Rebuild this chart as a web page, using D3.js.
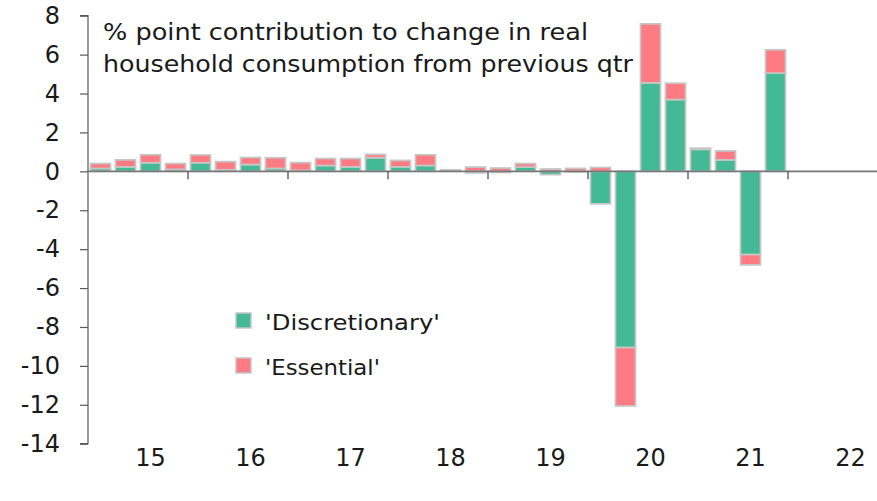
<!DOCTYPE html>
<html>
<head>
<meta charset="utf-8">
<script src="https://cdn.jsdelivr.net/npm/d3@7"></script>
<style>
  html, body { margin: 0; padding: 0; background: #fff; }
  svg { display: block; font-family: "DejaVu Sans", sans-serif; }
</style>
</head>
<body>
<svg id="chart" width="877" height="501"></svg>
<script>
// ---- data ----
const quarters = [
  "2015Q1","2015Q2","2015Q3","2015Q4",
  "2016Q1","2016Q2","2016Q3","2016Q4",
  "2017Q1","2017Q2","2017Q3","2017Q4",
  "2018Q1","2018Q2","2018Q3","2018Q4",
  "2019Q1","2019Q2","2019Q3","2019Q4",
  "2020Q1","2020Q2","2020Q3","2020Q4",
  "2021Q1","2021Q2","2021Q3","2021Q4",
  "2022Q1","2022Q2","2022Q3","2022Q4"
];
const discretionary = [0.15,0.23,0.44,0.10,0.44,0.08,0.35,0.15,0.05,0.30,0.23,0.70,
                       0.23,0.30,0.03,-0.08,-0.06,0.22,-0.17,-0.03,-1.67,-9.06,4.55,3.69,
                       1.13,0.59,-4.28,5.05];
const essential     = [0.25,0.36,0.41,0.30,0.40,0.42,0.36,0.55,0.40,0.36,0.43,0.17,
                       0.33,0.55,0.05,0.22,0.17,0.18,0.12,0.15,0.20,-3.00,3.03,0.84,
                       0.06,0.46,-0.53,1.20];
const seriesNames = ["'Discretionary'", "'Essential'"];
const yTicks = [8,6,4,2,0,-2,-4,-6,-8,-10,-12,-14];
const yearLabels = ["15","16","17","18","19","20","21","22"];
const titleLines = ["% point contribution to change in real",
                    "household consumption from previous qtr"];

// ---- styles ----
const colors = ["#43B995", "#FF7B83"];
const barStroke = "#C6C6C6";
const textColor = "#1a1a1a";

const svg = d3.select("#chart");

const x = d3.scaleBand().domain(quarters).range([88, 888]).paddingInner(0.2).paddingOuter(0.1);
const y = d3.scaleLinear().domain([-14, 8]).range([443.7, 15.7]);

// stacked data (diverging)
const rows = discretionary.map((d, i) => ({q: quarters[i], disc: d, ess: essential[i]}));
const stack = d3.stack().keys(["disc", "ess"]).offset(d3.stackOffsetDiverging);
const layers = stack(rows);

const bw = 25 * 0.8;
layers.forEach((layer, li) => {
  svg.append("g").selectAll("rect").data(layer).join("rect")
    .attr("x", d => x.step() * quarters.indexOf(d.data.q) + 88 + (x.step() - bw) / 2)
    .attr("width", bw)
    .attr("y", d => y(Math.max(d[0], d[1])))
    .attr("height", d => Math.abs(y(d[0]) - y(d[1])))
    .attr("fill", colors[li])
    .attr("stroke", barStroke)
    .attr("stroke-width", 1.7);
});

// y axis
const yAxis = d3.axisLeft(y).tickValues(yTicks).tickSize(8).tickFormat(d3.format("d"));
const gy = svg.append("g").attr("transform", "translate(88,0)").call(yAxis);
gy.select(".domain").attr("stroke", "#5a5a5a").attr("stroke-width", 1.2)
  .attr("d", `M-8,${y(8)}H0V${y(-14)}H-8`);
gy.selectAll(".tick line").attr("stroke", "#5a5a5a").attr("stroke-width", 1.2);
gy.selectAll(".tick text").attr("x", -28).attr("font-size", 24)
  .attr("fill", textColor).attr("font-family", "DejaVu Sans, sans-serif")
  .text(d => d < 0 ? "-" + Math.abs(d) : d);

// x axis (zero line) with year ticks
const yearStart = quarters.filter(q => q.endsWith("Q1"));
const gx = svg.append("g").attr("transform", `translate(0,${y(0)})`);
gx.append("line").attr("x1", 88).attr("x2", 877).attr("y1", 0).attr("y2", 0)
  .attr("stroke", "#777").attr("stroke-width", 1.7);
gx.selectAll("line.tk").data(yearStart.slice(1)).join("line").attr("class", "tk")
  .attr("x1", d => 88 + quarters.indexOf(d) * x.step())
  .attr("x2", d => 88 + quarters.indexOf(d) * x.step())
  .attr("y1", 0).attr("y2", 8).attr("stroke", "#444").attr("stroke-width", 1.2);

// year labels (at Q3 of each year)
svg.append("g").selectAll("text").data(yearLabels).join("text")
  .attr("x", (d, i) => 88 + (i * 4 + 2.5) * x.step())
  .attr("y", 466)
  .attr("text-anchor", "middle")
  .attr("font-size", 24)
  .attr("fill", textColor)
  .text(d => d);

// title
const title = svg.append("g");
titleLines.forEach((t, i) => {
  const tx = title.append("text")
    .attr("x", 103).attr("y", 40 + i * 31.5)
    .attr("font-size", 23).attr("fill", textColor).text(t);
  const target = i === 0 ? 485 : 530;
  tx.attr("textLength", target).attr("lengthAdjust", "spacingAndGlyphs");
});

// legend
const legend = svg.append("g");
seriesNames.forEach((name, i) => {
  const ly = 313 + i * 45;
  legend.append("rect").attr("x", 236).attr("y", ly).attr("width", 15).attr("height", 15)
    .attr("fill", colors[i]).attr("stroke", barStroke).attr("stroke-width", 1.5);
  const t = legend.append("text").attr("x", 265).attr("y", ly + 16.5)
    .attr("font-size", 22).attr("fill", textColor).text(name);
  t.attr("textLength", i === 0 ? 175 : 115).attr("lengthAdjust", "spacingAndGlyphs");
});
</script>
</body>
</html>
